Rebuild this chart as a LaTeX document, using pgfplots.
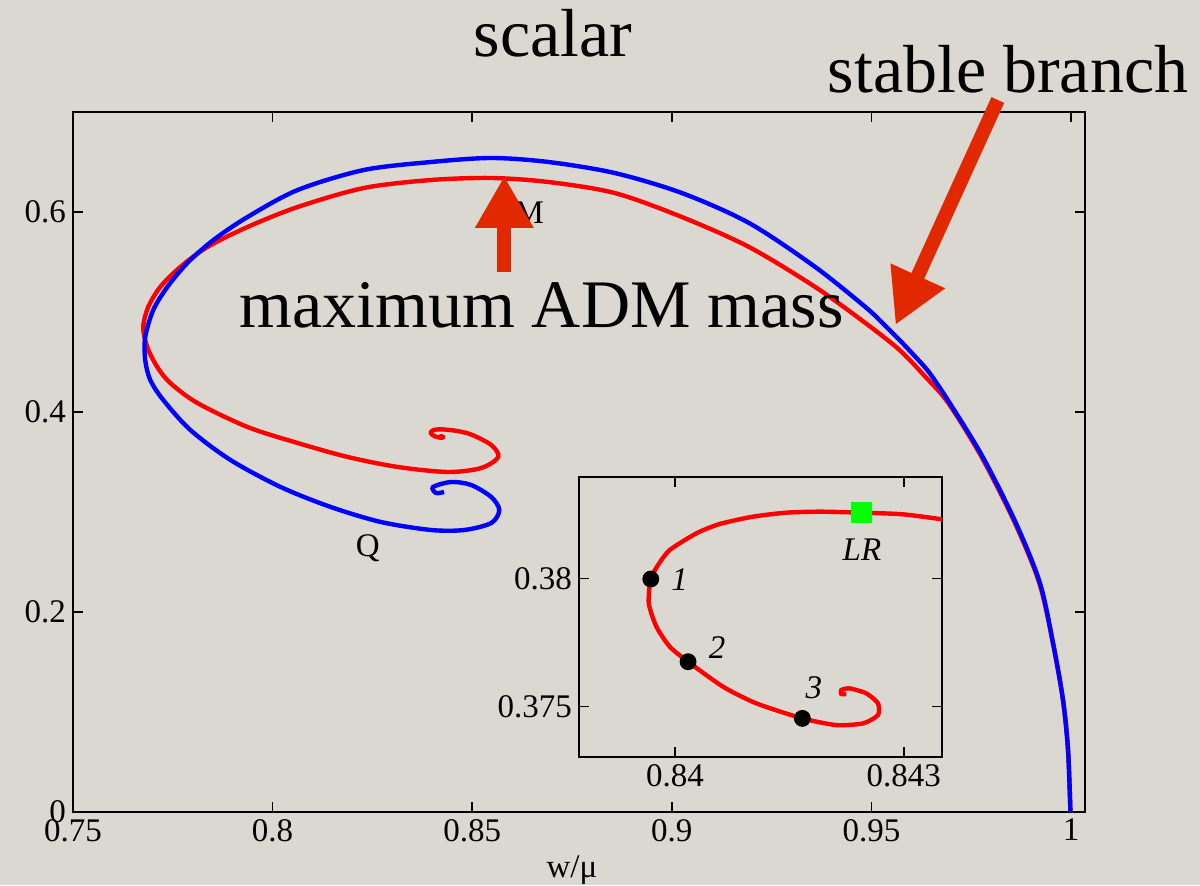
\documentclass[border=0pt]{standalone}
\usepackage{fontspec}
\setmainfont{Liberation Serif}
\usepackage{pgfplots}
\pgfplotsset{compat=1.18}
\usepackage{pgfplotstable}
\usetikzlibrary{arrows.meta}
\definecolor{bg}{RGB}{219,216,210}
\definecolor{arr}{RGB}{225,40,0}
\definecolor{lgreen}{RGB}{0,255,0}

\pgfplotstableread{
x y
0.99985 0.0
0.99925 0.062
0.99799 0.112
0.99548 0.169
0.99205 0.229
0.98595 0.289
0.97760 0.355
0.96925 0.409
0.96357 0.435
0.95704 0.462
0.94849 0.489
0.93593 0.525
0.91935 0.565
0.90251 0.595
0.88568 0.619
0.86910 0.630
0.85477 0.634
0.83970 0.632
0.82286 0.624
0.80628 0.605
0.79372 0.585
0.78367 0.565
0.77688 0.545
0.77186 0.525
0.76884 0.505
0.76759 0.485
0.76859 0.465
0.77111 0.445
0.77437 0.429
0.78116 0.409
0.79372 0.385
0.80628 0.369
0.81884 0.355
0.83141 0.345
0.84397 0.340
0.85226 0.344
0.85653 0.355
0.85477 0.367
0.84975 0.3775
0.84600 0.3812
0.84400 0.3821
0.843499 0.382323
0.842988 0.382519
0.842446 0.382584
0.841896 0.382623
0.841459 0.382584
0.841022 0.382428
0.840585 0.382141
0.840280 0.381775
0.839930 0.381123
0.839777 0.380535
0.839681 0.379987
0.839655 0.379034
0.839755 0.378120
0.839930 0.377337
0.840170 0.376750
0.840629 0.375771
0.841066 0.375119
0.841669 0.374531
0.842114 0.374270
0.842464 0.374335
0.842661 0.374662
0.842661 0.375119
0.842508 0.375510
0.842289 0.375706
0.842180 0.375641
0.842180 0.375484
0.842245 0.375484
}\redmain

\pgfplotstableread{
x y
0.99985 0.0
0.99925 0.062
0.99799 0.112
0.99548 0.169
0.99221 0.229
0.98618 0.289
0.97789 0.355
0.96960 0.409
0.96457 0.439
0.96106 0.455
0.95704 0.472
0.95276 0.489
0.94849 0.505
0.93593 0.545
0.91935 0.589
0.90251 0.619
0.88568 0.639
0.86910 0.650
0.85477 0.654
0.83970 0.650
0.82286 0.642
0.80628 0.622
0.79372 0.595
0.78518 0.572
0.77864 0.549
0.77362 0.525
0.77010 0.502
0.76809 0.475
0.76809 0.452
0.76935 0.432
0.77261 0.412
0.77940 0.382
0.78945 0.352
0.80201 0.325
0.81457 0.305
0.82714 0.290
0.83970 0.282
0.84799 0.282
0.85477 0.289
0.85678 0.302
0.85477 0.315
0.84975 0.327
0.84472 0.330
0.84020 0.325
0.84095 0.319
0.84296 0.320
}\bluemain

\pgfplotstableread{
x y
0.84400 0.3821
0.843499 0.382323
0.842988 0.382519
0.842446 0.382584
0.841896 0.382623
0.841459 0.382584
0.841022 0.382428
0.840585 0.382141
0.840280 0.381775
0.839930 0.381123
0.839777 0.380535
0.839681 0.379987
0.839655 0.379034
0.839755 0.378120
0.839930 0.377337
0.840170 0.376750
0.840629 0.375771
0.841066 0.375119
0.841669 0.374531
0.842114 0.374270
0.842464 0.374335
0.842661 0.374662
0.842661 0.375119
0.842508 0.375510
0.842289 0.375706
0.842180 0.375641
0.842180 0.375484
0.842245 0.375484
}\redinset

\begin{document}
\begin{tikzpicture}
\fill[bg] (-36.5pt,-36.5pt) rectangle (563.5pt,406pt);
\begin{axis}[
  at={(0,0)}, anchor=south west,
  scale only axis, width=506pt, height=350pt,
  xmin=0.75, xmax=1.0035, ymin=0, ymax=0.7,
  xtick={0.75,0.8,0.85,0.9,0.95,1},
  ytick={0,0.2,0.4,0.6},
  tick align=inside, major tick length=5pt,
  axis line style={line width=1pt},
  every tick/.style={black, line width=0.8pt},
  tick label style={font=\fontsize{16.5}{19}\selectfont},
  /pgf/number format/assume math mode=true,
  xlabel={w/μ},
  xlabel style={at={(axis description cs:0.493,0)}, anchor=base, yshift=-32.5pt, font=\fontsize{16.5}{19}\selectfont},
  clip=false,
]
\addplot[red, line width=2.2pt, smooth, tension=0.5] table[x=x,y=y] {\redmain};
\addplot[blue, line width=2.2pt, smooth, tension=0.5] table[x=x,y=y] {\bluemain};
\node[font=\fontsize{16.5}{19}\selectfont] at (axis cs:0.82387,0.264) {Q};
\node[font=\fontsize{16.5}{19}\selectfont] at (axis cs:0.86432,0.599) {M};
\draw[arr, line width=7pt, -{Triangle[width=27.5pt,length=26pt]}] (axis cs:0.85804,0.540) -- (axis cs:0.85804,0.636);
\draw[arr, line width=7pt, -{Triangle[width=28pt,length=27pt]}] (axis cs:0.98166,0.712) -- (axis cs:0.95603,0.487);
\node[anchor=base, font=\fontsize{34}{40}\selectfont] at (axis cs:0.8703,0.755) {scalar};
\node[anchor=base, font=\fontsize{34}{40}\selectfont] at (axis cs:0.98420,0.719) {stable branch};
\node[anchor=base, font=\fontsize{34}{40}\selectfont] at (axis cs:0.86734,0.484) {maximum ADM mass};
\end{axis}
\begin{axis}[
  at={(253pt,27.5pt)}, anchor=south west,
  scale only axis, width=181.5pt, height=140pt,
  xmin=0.83874, xmax=0.8435, ymin=0.37302, ymax=0.38398,
  xtick={0.84,0.843}, xticklabels={0.84,0.843},
  ytick={0.375,0.38}, yticklabels={0.375,0.38},
  tick align=inside, major tick length=5pt,
  axis line style={line width=1pt},
  every tick/.style={black, line width=0.8pt},
  tick label style={font=\fontsize{16.5}{19}\selectfont},
  axis background/.style={fill=bg},
]
\addplot[red, line width=2.2pt, smooth, tension=0.4] table[x=x,y=y] {\redinset};
\addplot[only marks, mark=*, mark size=4pt, mark options={fill=black, draw=black}] coordinates {(0.839681,0.379987) (0.840170,0.376750) (0.841669,0.374531)};
\addplot[only marks, mark=square*, mark size=5pt, mark options={fill=lgreen, draw=lgreen}] coordinates {(0.842446,0.382584)};
\node[font=\itshape\fontsize{16.5}{19}\selectfont] at (axis cs:0.84006,0.37995) {1};
\node[font=\itshape\fontsize{16.5}{19}\selectfont] at (axis cs:0.84055,0.37729) {2};
\node[font=\itshape\fontsize{16.5}{19}\selectfont] at (axis cs:0.84182,0.37572) {3};
\node[font=\itshape\fontsize{16.5}{19}\selectfont] at (axis cs:0.84245,0.38112) {LR};
\end{axis}
\pgfresetboundingbox
\useasboundingbox (-36.5pt,-36.5pt) rectangle (563.5pt,406pt);
\end{tikzpicture}
\end{document}
